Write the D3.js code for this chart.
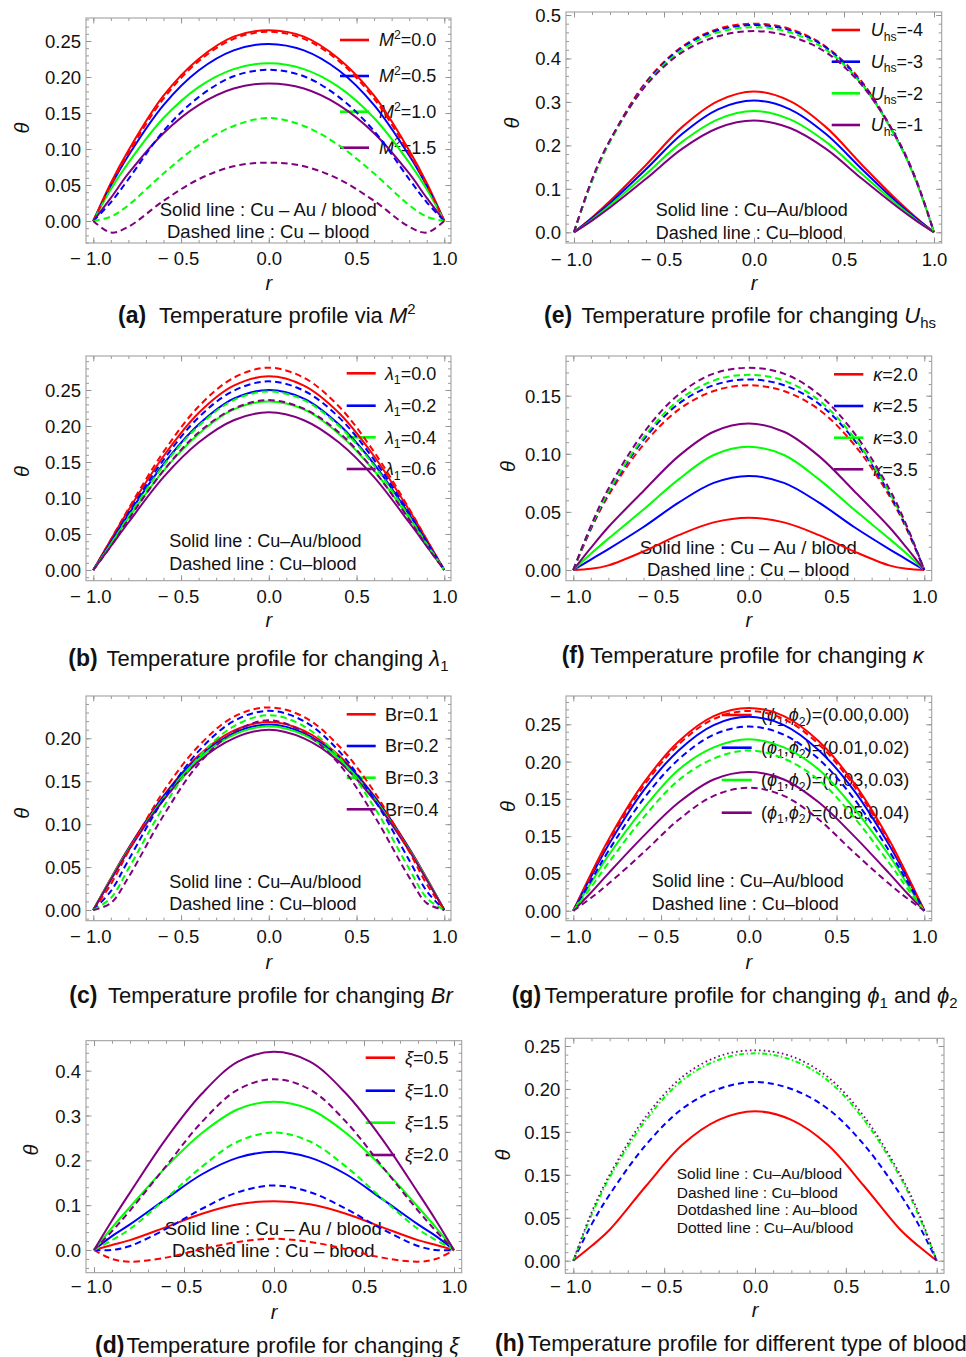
<!DOCTYPE html>
<html><head><meta charset="utf-8">
<script src="https://cdn.jsdelivr.net/npm/d3@7"></script>
<style>
body{margin:0;background:#fff}
svg{display:block}
text{font-family:"Liberation Sans",Arial,Helvetica,sans-serif;fill:#111}
</style>
</head><body>
<svg id="chart" width="966" height="1357"></svg>
<script>
// ---------------- DATA ----------------
const rGrid = [-1,-0.9,-0.8,-0.6,-0.4,-0.2,0,0.2,0.4,0.6,0.8,0.9,1];
const seriesColors = ["#ff0000","#0000ff","#00ff00","#800080"];
const xTickValues = [-1,-0.5,0,0.5,1];
const xTickLabels = ["\u2212 1.0","\u2212 0.5","0.0","0.5","1.0"];

// (a) M^2
const aLegend = ["0.0","0.5","1.0","1.5"];
const aYTicks = [0,0.05,0.10,0.15,0.20,0.25];
const aYLabels = ["0.00","0.05","0.10","0.15","0.20","0.25"];
const aSolid = [
  [0,.053,.098,.174,.225,.256,.265,.256,.225,.174,.098,.053,0],
  [0,.049,.091,.161,.209,.237,.246,.237,.209,.161,.091,.049,0],
  [0,.044,.081,.143,.186,.211,.219,.211,.186,.143,.081,.044,0],
  [0,.032,.066,.122,.161,.184,.191,.184,.161,.122,.066,.032,0]];
const aDashed = [
  [0,.050,.094,.170,.222,.253,.263,.253,.222,.170,.094,.050,0],
  [0,.026,.058,.125,.172,.201,.210,.201,.172,.125,.058,.026,0],
  [0,.006,.022,.066,.105,.132,.143,.132,.105,.066,.022,.006,0],
  [0,-.016,-.008,.028,.058,.076,.081,.076,.058,.028,-.008,-.016,0]];

// (e) U_hs
const eLegend = ["-4","-3","-2","-1"];
const eYTicks = [0,0.1,0.2,0.3,0.4,0.5];
const eYLabels = ["0.0","0.1","0.2","0.3","0.4","0.5"];
const eSolid = [
  [0,.034,.072,.155,.242,.302,.324,.302,.242,.155,.072,.034,0],
  [0,.032,.067,.145,.226,.283,.303,.283,.226,.145,.067,.032,0],
  [0,.029,.062,.134,.208,.260,.279,.260,.208,.134,.062,.029,0],
  [0,.027,.057,.123,.192,.240,.257,.240,.192,.123,.057,.027,0]];
const eDashed = [
  [0,.120,.211,.346,.427,.468,.480,.468,.427,.346,.211,.120,0],
  [0,.119,.210,.343,.425,.465,.477,.465,.425,.343,.210,.119,0],
  [0,.118,.208,.340,.420,.460,.472,.460,.420,.340,.208,.118,0],
  [0,.122,.212,.338,.414,.451,.463,.451,.414,.338,.212,.122,0]];

// (b) lambda_1
const bLegend = ["0.0","0.2","0.4","0.6"];
const bYTicks = [0,0.05,0.10,0.15,0.20,0.25];
const bYLabels = ["0.00","0.05","0.10","0.15","0.20","0.25"];
const bSolid = [
  [0,.042,.083,.158,.218,.256,.269,.256,.218,.158,.083,.042,0],
  [0,.039,.077,.147,.202,.238,.250,.238,.202,.147,.077,.039,0],
  [0,.036,.072,.138,.189,.223,.234,.223,.189,.138,.072,.036,0],
  [0,.033,.066,.129,.177,.208,.219,.208,.177,.129,.066,.033,0]];
const bDashed = [
  [0,.042,.085,.164,.227,.267,.281,.267,.227,.164,.085,.042,0],
  [0,.039,.079,.153,.212,.249,.262,.249,.212,.153,.079,.039,0],
  [0,.036,.074,.145,.200,.236,.248,.236,.200,.145,.074,.036,0],
  [0,.033,.070,.138,.191,.224,.236,.224,.191,.138,.070,.033,0]];

// (f) kappa
const fLegend = ["2.0","2.5","3.0","3.5"];
const fYTicks = [0,0.05,0.10,0.15];
const fYLabels = ["0.00","0.05","0.10","0.15"];
const fSolid = [
  [0,.001,.004,.016,.030,.041,.045,.041,.030,.016,.004,.001,0],
  [0,.009,.018,.037,.058,.075,.081,.075,.058,.037,.018,.009,0],
  [0,.014,.027,.052,.078,.099,.106,.099,.078,.052,.027,.014,0],
  [0,.019,.037,.068,.098,.119,.126,.119,.098,.068,.037,.019,0]];
const fDashed = [
  [0,.035,.064,.108,.138,.154,.159,.154,.138,.108,.064,.035,0],
  [0,.036,.066,.112,.143,.159,.164,.159,.143,.112,.066,.036,0],
  [0,.037,.067,.114,.146,.163,.168,.163,.146,.114,.067,.037,0],
  [0,.038,.070,.118,.151,.169,.174,.169,.151,.118,.070,.038,0]];

// (c) Br
const cLegend = ["0.1","0.2","0.3","0.4"];
const cYTicks = [0,0.05,0.10,0.15,0.20];
const cYLabels = ["0.00","0.05","0.10","0.15","0.20"];
const cSolid = [
  [0,.037,.072,.133,.180,.209,.219,.209,.180,.133,.072,.037,0],
  [0,.036,.071,.132,.178,.206,.216,.206,.178,.132,.071,.036,0],
  [0,.036,.070,.130,.176,.204,.214,.204,.176,.130,.070,.036,0],
  [0,.035,.069,.128,.173,.200,.210,.200,.173,.128,.069,.035,0]];
const cDashed = [
  [0,.030,.068,.138,.191,.225,.236,.225,.191,.138,.068,.030,0],
  [0,.022,.058,.129,.185,.220,.232,.220,.185,.129,.058,.022,0],
  [0,.014,.048,.120,.178,.214,.227,.214,.178,.120,.048,.014,0],
  [0,.008,.038,.110,.170,.207,.221,.207,.170,.110,.038,.008,0]];

// (g) phi_1, phi_2
const gLegend = ["0.00,0.00","0.01,0.02","0.03,0.03","0.05,0.04"];
const gYTicks = [0,0.05,0.10,0.15,0.20,0.25];
const gYLabels = ["0.00","0.05","0.15","0.15","0.20","0.25"];
const gSolid = [
  [0,.049,.095,.171,.227,.261,.272,.261,.227,.171,.095,.049,0],
  [0,.045,.088,.161,.215,.249,.260,.249,.215,.161,.088,.045,0],
  [0,.037,.074,.137,.189,.219,.230,.219,.189,.137,.074,.037,0],
  [0,.024,.050,.100,.145,.176,.186,.176,.145,.100,.050,.024,0]];
const gDashed = [
  [0,.047,.092,.167,.223,.257,.268,.257,.223,.167,.092,.047,0],
  [0,.040,.080,.150,.203,.236,.247,.236,.203,.150,.080,.040,0],
  [0,.031,.064,.125,.175,.204,.215,.204,.175,.125,.064,.031,0],
  [0,.017,.036,.078,.122,.154,.165,.154,.122,.078,.036,.017,0]];

// (d) xi
const dLegend = ["0.5","1.0","1.5","2.0"];
const dYTicks = [0,0.1,0.2,0.3,0.4];
const dYLabels = ["0.0","0.1","0.2","0.3","0.4"];
const dSolid = [
  [0,.011,.022,.051,.081,.102,.109,.102,.081,.051,.022,.011,0],
  [0,.031,.057,.114,.169,.206,.219,.206,.169,.114,.057,.031,0],
  [0,.050,.096,.185,.261,.314,.331,.314,.261,.185,.096,.050,0],
  [0,.066,.128,.248,.349,.420,.442,.420,.349,.248,.128,.066,0]];
const dDashed = [
  [0,-.020,-.026,-.017,.002,.018,.025,.018,.002,-.017,-.026,-.020,0],
  [0,.000,.009,.047,.092,.129,.144,.129,.092,.047,.009,.000,0],
  [0,.022,.047,.115,.186,.242,.262,.242,.186,.115,.047,.022,0],
  [0,.042,.088,.187,.286,.358,.381,.358,.286,.187,.088,.042,0]];

// (h) blood types
const hYTicks = [0,0.05,0.10,0.15,0.20,0.25];
const hYLabels = ["0.00","0.05","0.15","0.15","0.20","0.25"];
const hSolid     = [0,.017,.036,.087,.135,.164,.174,.164,.135,.087,.036,.017,0];
const hDashed    = [0,.042,.077,.135,.177,.200,.208,.200,.177,.135,.077,.042,0];
const hDotDashed = [0,.053,.097,.164,.210,.234,.2415,.234,.210,.164,.097,.053,0];
const hDotted    = [0,.056,.100,.168,.214,.238,.245,.238,.214,.168,.100,.056,0];

const annSpaced = ["Solid line : Cu \u2013 Au / blood","Dashed line : Cu \u2013 blood"];
const annTight  = ["Solid line : Cu\u2013Au/blood","Dashed line : Cu\u2013blood"];
const annH = ["Solid line : Cu\u2013Au/blood","Dashed line : Cu\u2013blood","Dotdashed line : Au\u2013blood","Dotted line : Cu\u2013Au/blood"];

// ---------------- RENDER ----------------
const svg = d3.select("#chart");
const DASH = "6.5,4";

function rich(sel, segs, size) {
  let cur = 0;
  segs.forEach(s => {
    const tgt = s.sup ? -size*0.4 : (s.sub ? size*0.24 : 0);
    const t = sel.append("tspan").text(s.t).attr("font-size", (s.sup||s.sub) ? size*0.68 : size);
    if (tgt !== cur) t.attr("dy", tgt - cur);
    if (s.i) t.attr("font-style","italic");
    cur = tgt;
  });
}

function stdSeries(solid, dashed) {
  const out = [];
  solid.forEach((v,i)=>out.push({values:v,color:seriesColors[i],dash:null}));
  dashed.forEach((v,i)=>out.push({values:v,color:seriesColors[i],dash:DASH}));
  return out;
}

const panels = [
 {id:"a", frame:[86,451,18,243], xr:[93.3,444.3], yr:[221,41], yv:0.25, minorY:0.01,
  yTicks:aYTicks, yLabels:aYLabels, series:stdSeries(aSolid,aDashed),
  xTickY:259, rY:283.3, theta:[21.7,128],
  leg:{x1:340,x2:369,tx:379,ys:[40,76,111.7,147.7], vals:aLegend, fmt:v=>[{t:"M",i:1},{t:"2",sup:1},{t:"="+v}]},
  ann:{anchor:"middle",x:268.3,ys:[210,231.7],lines:annSpaced,size:18.5},
  cap:{lab:"(a)",lx:118,tx:159,y:315,segs:[{t:"Temperature profile via "},{t:"M",i:1},{t:"2",sup:1}]}},
 {id:"e", frame:[566,941.7,12,243], xr:[574,934], yr:[232.3,15], yv:0.5, minorY:0.02,
  yTicks:eYTicks, yLabels:eYLabels, series:stdSeries(eSolid,eDashed),
  xTickY:260, rY:283.3, theta:[511.7,123],
  leg:{x1:831.7,x2:860,tx:870.7,ys:[30,61.7,93.3,125], vals:eLegend, fmt:v=>[{t:"U",i:1},{t:"hs",sub:1},{t:"="+v}]},
  ann:{anchor:"start",x:655.7,ys:[210,232.7],lines:annTight,size:18},
  cap:{lab:"(e)",lx:544,tx:581.5,y:315,segs:[{t:"Temperature profile for changing "},{t:"U",i:1},{t:"hs",sub:1}]}},
 {id:"b", frame:[86,451,356,580.7], xr:[93.3,444.3], yr:[570,390], yv:0.25, minorY:0.01,
  yTicks:bYTicks, yLabels:bYLabels, series:stdSeries(bSolid,bDashed),
  xTickY:596.7, rY:620, theta:[21.7,471.7],
  leg:{x1:346.7,x2:375.7,tx:385,ys:[373.3,405.7,437.3,469], vals:bLegend, fmt:v=>[{t:"\u03bb",i:1},{t:"1",sub:1},{t:"="+v}]},
  ann:{anchor:"start",x:169.3,ys:[541,564],lines:annTight,size:18},
  cap:{lab:"(b)",lx:68.3,tx:106.5,y:658,segs:[{t:"Temperature profile for changing "},{t:"\u03bb",i:1},{t:"1",sub:1}]}},
 {id:"f", frame:[566,931.7,356,580.7], xr:[573.3,924.3], yr:[570,395.7], yv:0.15, minorY:0.01,
  yTicks:fYTicks, yLabels:fYLabels, series:stdSeries(fSolid,fDashed),
  xTickY:596.7, rY:620, theta:[508.3,466.7],
  leg:{x1:834,x2:863.3,tx:873.3,ys:[374.3,406,437.7,469.3], vals:fLegend, fmt:v=>[{t:"\u03ba",i:1},{t:"="+v}]},
  ann:{anchor:"middle",x:748.3,ys:[547.3,570],lines:annSpaced,size:18.5},
  cap:{lab:"(f)",lx:561.7,tx:590,y:655,segs:[{t:"Temperature profile for changing "},{t:"\u03ba",i:1}]}},
 {id:"c", frame:[86,451,696,920.7], xr:[93.3,444.3], yr:[910,738.3], yv:0.20, minorY:0.01,
  yTicks:cYTicks, yLabels:cYLabels, series:stdSeries(cSolid,cDashed),
  xTickY:936.7, rY:961.7, theta:[21.7,813.3],
  leg:{x1:346.7,x2:375.7,tx:385,ys:[714.3,746,777.7,809.3], vals:cLegend, fmt:v=>[{t:"Br="+v}]},
  ann:{anchor:"start",x:169.3,ys:[881.7,904],lines:annTight,size:18},
  cap:{lab:"(c)",lx:69.3,tx:108,y:995,segs:[{t:"Temperature profile for changing "},{t:"Br",i:1}]}},
 {id:"g", frame:[566,931.7,696,920.7], xr:[573.3,924.3], yr:[910.7,724.3], yv:0.25, minorY:0.01,
  yTicks:gYTicks, yLabels:gYLabels, series:stdSeries(gSolid,gDashed),
  xTickY:936.7, rY:961.7, theta:[508.3,806.7],
  leg:{x1:721.7,x2:751.7,tx:761,ys:[715,747.7,780,812.7], vals:gLegend,
       fmt:v=>[{t:"("},{t:"\u03d5",i:1},{t:"1",sub:1},{t:","},{t:"\u03d5",i:1},{t:"2",sub:1},{t:")=("+v+")"}]},
  ann:{anchor:"start",x:651.7,ys:[881,904],lines:annTight,size:18},
  cap:{lab:"(g)",lx:511.7,tx:544.5,y:995,segs:[{t:"Temperature profile for changing "},{t:"\u03d5",i:1},{t:"1",sub:1},{t:" and "},{t:"\u03d5",i:1},{t:"2",sub:1}]}},
 {id:"d", frame:[86,461.7,1040.7,1272.7], xr:[94,454], yr:[1250,1070.7], yv:0.4, minorY:0.02,
  yTicks:dYTicks, yLabels:dYLabels, series:stdSeries(dSolid,dDashed),
  xTickY:1286.7, rY:1311.7, theta:[30.7,1150],
  leg:{x1:365.7,x2:395,tx:405,ys:[1057.7,1090.7,1122.7,1155], vals:dLegend, fmt:v=>[{t:"\u03be",i:1},{t:"="+v}]},
  ann:{anchor:"middle",x:273.3,ys:[1228.3,1250.7],lines:annSpaced,size:18.5},
  cap:{lab:"(d)",lx:95,tx:126.5,y:1345,segs:[{t:"Temperature profile for changing "},{t:"\u03be",i:1}]}},
 {id:"h", frame:[565.3,944,1038.3,1273.3], xr:[573.3,936.7], yr:[1260.7,1046], yv:0.25, minorY:0.01,
  yTicks:hYTicks, yLabels:hYLabels,
  series:[{values:hSolid,color:seriesColors[0],dash:null},
          {values:hDashed,color:seriesColors[1],dash:"6,4"},
          {values:hDotDashed,color:seriesColors[2],dash:"5,2.5,1.5,2.5"},
          {values:hDotted,color:seriesColors[3],dash:"1.6,3",w:1.8}],
  xTickY:1286.7, rY:1310, theta:[503.3,1155],
  leg:null,
  ann:{anchor:"start",x:676.7,ys:[1173.3,1192.7,1210,1227.3],lines:annH,size:15.5},
  cap:{lab:"(h)",lx:495,tx:528,y:1343.3,segs:[{t:"Temperature profile for different type of blood"}]}}
];

const TICKC = "#8c8c8c";

panels.forEach(p => {
  const [fl, fr, ft, fb] = p.frame;
  const x = d3.scaleLinear().domain([-1,1]).range(p.xr);
  const y = d3.scaleLinear().domain([0,p.yv]).range(p.yr);
  const g = svg.append("g").attr("class","panel-"+p.id);

  svg.append("clipPath").attr("id","clip-"+p.id).append("rect")
    .attr("x",fl).attr("y",ft).attr("width",fr-fl).attr("height",fb-ft);

  // minor ticks
  const xMin = x.invert(fl), xMax = x.invert(fr);
  const minorX = d3.range(-10,11).map(k=>k/10).filter(v=>v>xMin && v<xMax);
  const yLo = y.invert(fb), yHi = y.invert(ft);
  const minorY = d3.range(Math.ceil(yLo/p.minorY), Math.floor(yHi/p.minorY)+1).map(k=>+(k*p.minorY).toFixed(4));

  const styleAxis = sel => { sel.select(".domain").remove(); sel.selectAll("line").attr("stroke",TICKC).attr("stroke-width",0.9); };

  // bottom
  g.append("g").attr("transform",`translate(0,${fb})`)
    .call(d3.axisBottom(x).tickValues(minorX).tickSizeInner(-3).tickSizeOuter(0).tickFormat(""))
    .call(styleAxis);
  const bx = g.append("g").attr("transform",`translate(0,${fb})`)
    .call(d3.axisBottom(x).tickValues(xTickValues).tickSizeInner(-5.5).tickSizeOuter(0).tickFormat((d,i)=>xTickLabels[i]))
    .call(styleAxis);
  bx.selectAll("text").attr("y", p.xTickY - fb).attr("dy","0.35em")
    .attr("x", d => d < 0 ? -3 : 0)
    .attr("font-size",18.5).attr("font-family",'"Liberation Sans",Arial,sans-serif').attr("fill","#111");
  // top
  g.append("g").attr("transform",`translate(0,${ft})`)
    .call(d3.axisTop(x).tickValues(minorX).tickSizeInner(-3).tickSizeOuter(0).tickFormat("")).call(styleAxis);
  g.append("g").attr("transform",`translate(0,${ft})`)
    .call(d3.axisTop(x).tickValues(xTickValues).tickSizeInner(-5.5).tickSizeOuter(0).tickFormat("")).call(styleAxis);
  // left
  g.append("g").attr("transform",`translate(${fl},0)`)
    .call(d3.axisLeft(y).tickValues(minorY).tickSizeInner(-3).tickSizeOuter(0).tickFormat("")).call(styleAxis);
  const ly = g.append("g").attr("transform",`translate(${fl},0)`)
    .call(d3.axisLeft(y).tickValues(p.yTicks).tickSizeInner(-5.5).tickSizeOuter(0).tickFormat((d,i)=>p.yLabels[i]))
    .call(styleAxis);
  ly.selectAll("text").attr("x",-5).attr("dy","0.35em")
    .attr("font-size",18.5).attr("font-family",'"Liberation Sans",Arial,sans-serif').attr("fill","#111");
  // right
  g.append("g").attr("transform",`translate(${fr},0)`)
    .call(d3.axisRight(y).tickValues(minorY).tickSizeInner(-3).tickSizeOuter(0).tickFormat("")).call(styleAxis);
  g.append("g").attr("transform",`translate(${fr},0)`)
    .call(d3.axisRight(y).tickValues(p.yTicks).tickSizeInner(-5.5).tickSizeOuter(0).tickFormat("")).call(styleAxis);

  // frame
  g.append("rect").attr("x",fl).attr("y",ft).attr("width",fr-fl).attr("height",fb-ft)
    .attr("fill","none").attr("stroke","#a0a0a0").attr("stroke-width",1.1);

  // axis labels
  g.append("text").attr("x",(p.xr[0]+p.xr[1])/2).attr("y",p.rY).attr("dy","0.35em")
    .attr("text-anchor","middle").attr("font-size",20).attr("font-style","italic").text("r");
  g.append("text").attr("transform",`translate(${p.theta[0]},${p.theta[1]}) rotate(-90)`)
    .attr("dy","0.35em").attr("text-anchor","middle").attr("font-size",20).attr("font-style","italic").text("\u03b8");

  // annotation
  p.ann.lines.forEach((t,i)=>{
    g.append("text").attr("x",p.ann.x).attr("y",p.ann.ys[i]).attr("dy","0.35em")
      .attr("text-anchor",p.ann.anchor).attr("font-size",p.ann.size).attr("fill","#1a1a1a").text(t);
  });

  // legend
  if (p.leg) {
    p.leg.vals.forEach((v,i)=>{
      g.append("line").attr("x1",p.leg.x1).attr("x2",p.leg.x2).attr("y1",p.leg.ys[i]).attr("y2",p.leg.ys[i])
        .attr("stroke",seriesColors[i]).attr("stroke-width",2.6);
      const t = g.append("text").attr("x",p.leg.tx).attr("y",p.leg.ys[i]+6.3);
      rich(t, p.leg.fmt(v), 18);
    });
  }

  // curves
  const line = d3.line().x((d,i)=>x(rGrid[i])).y(d=>y(d)).curve(d3.curveCatmullRom.alpha(0.5));
  const cg = g.append("g").attr("clip-path",`url(#clip-${p.id})`);
  p.series.forEach(s=>{
    cg.append("path").attr("d",line(s.values)).attr("fill","none")
      .attr("stroke",s.color).attr("stroke-width",s.w||2)
      .attr("stroke-dasharray",s.dash).attr("stroke-linejoin","round");
  });

  // caption
  g.append("text").attr("x",p.cap.lx).attr("y",p.cap.y).attr("dy","0.35em")
    .attr("font-size",23).attr("font-weight","bold").text(p.cap.lab);
  const ct = g.append("text").attr("x",p.cap.tx).attr("y",p.cap.y+7.7);
  rich(ct, p.cap.segs, 22);
});
</script>
</body></html>
